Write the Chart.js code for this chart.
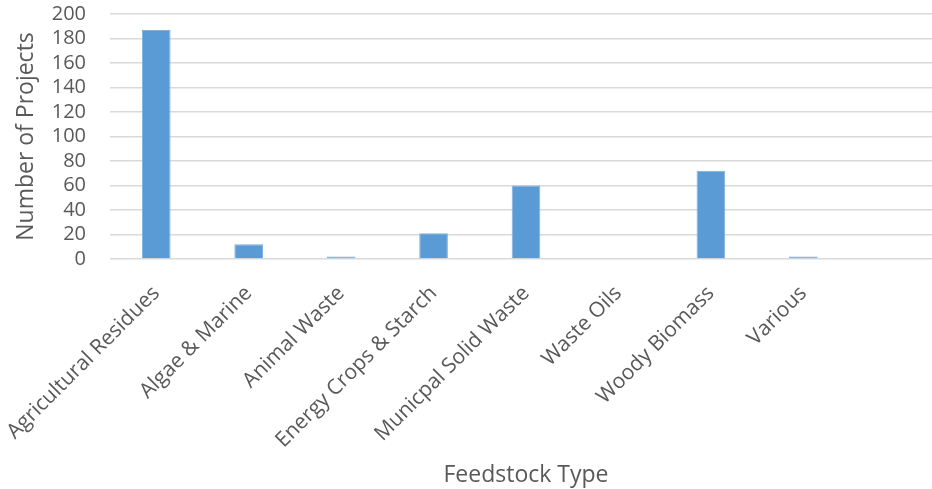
<!DOCTYPE html>
<html>
<head>
<meta charset="utf-8">
<script src="https://cdn.jsdelivr.net/npm/chart.js@4"></script>
<style>
  html, body { margin: 0; padding: 0; background: #fff; overflow: hidden; }
  #wrap { position: relative; width: 942px; height: 489px; }
</style>
</head>
<body>
<div id="wrap"><canvas id="chart"></canvas></div>
<script>
// datos
const feedstocks = ['Agricultural Residues', 'Algae & Marine', 'Animal Waste', 'Energy Crops & Starch',
  'Municpal Solid Waste', 'Waste Oils', 'Woody Biomass', 'Various', ''];
const projects = [187, 12, 2, 21, 60, 0, 72, 2, null];
const yTicks = [0, 20, 40, 60, 80, 100, 120, 140, 160, 180, 200];

const TEXT = '#595959';
const GRID = '#d9d9d9';
const FONT = "'Open Sans', sans-serif";

new Chart(document.getElementById('chart'), {
  type: 'bar',
  data: {
    labels: feedstocks,
    datasets: [{
      data: projects,
      backgroundColor: '#5b9bd5',
      borderColor: '#7eb1de',
      borderWidth: 1,
      barPercentage: 0.31,
      categoryPercentage: 1,
    }]
  },
  options: {
    responsive: true,
    maintainAspectRatio: false,
    animation: false,
    layout: { padding: { top: 14, right: 0, bottom: 0, left: 0 } },
    plugins: { legend: { display: false }, tooltip: { enabled: false } },
    scales: {
      x: {
        grid: { display: false },
        border: { display: false },
        ticks: {
          color: TEXT, font: { family: FONT, size: 21 },
          minRotation: 45, maxRotation: 45, autoSkip: false, padding: 14,
        },
        title: {
          display: true, text: 'Feedstock Type', color: TEXT,
          font: { family: FONT, size: 23 }, padding: { top: 0, bottom: 0 },
        },
        afterFit(s) { s.height = 230; s.paddingLeft = 0; s.paddingRight = 0; },
      },
      y: {
        min: 0, max: 200,
        afterBuildTicks(s) { s.ticks = yTicks.map(v => ({ value: v })); },
        grid: { color: GRID, lineWidth: 1.5, drawTicks: false },
        border: { display: false },
        ticks: { color: TEXT, font: { family: FONT, size: 20 }, padding: 24, autoSkip: false },
        title: {
          display: true, text: 'Number of Projects', color: TEXT,
          font: { family: FONT, size: 23 }, padding: { top: 13, bottom: 0 },
        },
        afterFit(s) { s.width = 110; s.paddingTop = 0; s.paddingBottom = 0; },
      },
    },
  },
});
</script>
</body>
</html>
